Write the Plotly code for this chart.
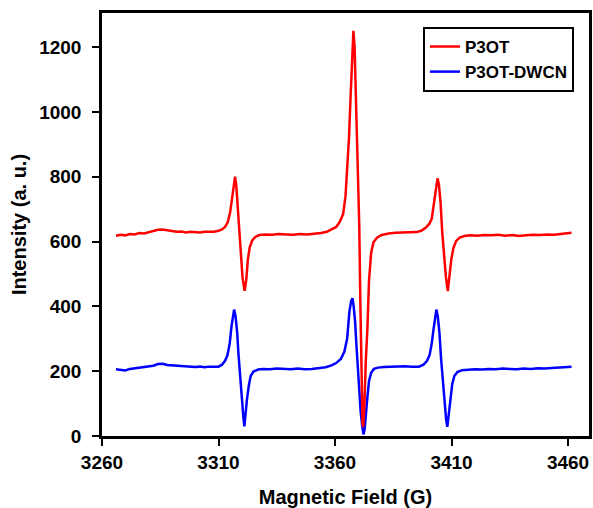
import plotly.graph_objects as go

# P3OT (red) spectrum: magnetic field (G) and intensity (a.u.)
p3ot_field = [3266.0, 3268.0, 3270.0, 3272.0, 3274.0, 3276.0, 3278.0, 3280.0, 3282.0, 3284.0,
              3286.0, 3288.0, 3290.0, 3292.0, 3294.0, 3296.0, 3298.0, 3300.0, 3302.0, 3304.0,
              3306.0, 3308.0, 3310.0, 3311.5, 3312.8, 3314.0, 3315.0, 3316.0, 3316.7, 3317.1,
              3317.6, 3318.2, 3318.8, 3319.5, 3320.3, 3321.2, 3321.9, 3322.6, 3323.4, 3324.4,
              3325.8, 3327.5, 3330.0, 3333.0, 3336.0, 3339.0, 3342.0, 3345.0, 3348.0, 3351.0,
              3354.0, 3356.5, 3358.5, 3360.5, 3362.0, 3363.5, 3364.5, 3365.3, 3366.0, 3366.7,
              3367.3, 3367.9, 3368.4, 3368.9, 3369.4, 3369.9, 3370.4, 3370.9, 3371.4, 3371.8,
              3372.1, 3372.6, 3373.2, 3373.9, 3374.6, 3375.5, 3376.5, 3378.0, 3380.0, 3383.0,
              3386.0, 3389.0, 3392.0, 3395.0, 3397.0, 3399.0, 3400.5, 3401.5, 3402.5, 3403.4,
              3404.0, 3404.6, 3405.3, 3406.0, 3406.8, 3407.6, 3408.4, 3409.1, 3409.9, 3410.8,
              3412.0, 3413.5, 3415.5, 3418.0, 3421.0, 3424.0, 3427.0, 3430.0, 3433.0, 3436.0,
              3439.0, 3442.0, 3445.0, 3448.0, 3451.0, 3454.0, 3457.0, 3459.0, 3461.5]
p3ot_int = [618, 621, 619, 623, 622, 626, 625, 629, 632, 636,
            637, 634, 632, 630, 631, 628, 630, 629, 628, 630,
            629, 630, 633, 637, 645, 660, 690, 745, 790, 800,
            775, 710, 640, 560, 490, 448, 480, 545, 582, 603,
            614, 620, 622, 621, 623, 622, 621, 623, 622, 624,
            626, 630, 637, 645, 660, 685, 740, 820, 920, 1050,
            1160, 1250, 1200, 1080, 940, 820, 650, 400, 150, 40,
            28, 90, 230, 330, 480, 565, 598, 612, 620, 625,
            627, 628, 627, 629, 633, 643, 655, 670, 720, 775,
            795, 775, 720, 630, 550, 490, 447, 495, 545, 580,
            602, 612, 617, 619, 618, 620, 619, 621, 618, 620,
            617, 619, 621, 620, 622, 621, 624, 625, 627]

# P3OT-DWCN (blue) spectrum
dwcn_field = [3266.0, 3268.0, 3270.0, 3272.0, 3274.0, 3276.0, 3278.0, 3280.0, 3282.0, 3284.0,
              3286.0, 3288.0, 3290.0, 3292.0, 3294.0, 3296.0, 3298.0, 3300.0, 3302.0, 3304.0,
              3306.0, 3308.0, 3310.0, 3311.5, 3312.8, 3313.8, 3314.8, 3315.6, 3316.3, 3316.7,
              3317.3, 3318.0, 3318.6, 3319.2, 3320.0, 3320.7, 3321.1, 3321.6, 3322.2, 3323.0,
              3323.8, 3325.0, 3327.0, 3329.0, 3332.0, 3335.0, 3338.0, 3341.0, 3344.0, 3347.0,
              3350.0, 3353.0, 3356.0, 3358.5, 3360.5, 3362.5, 3364.0, 3365.2, 3366.2, 3366.9,
              3367.5, 3368.0, 3368.6, 3369.2, 3369.8, 3370.4, 3371.0, 3371.6, 3372.2, 3372.7,
              3373.3, 3373.9, 3374.6, 3375.5, 3376.7, 3378.5, 3381.0, 3384.0, 3387.0, 3390.0,
              3393.0, 3396.0, 3398.0, 3399.5, 3400.6, 3401.5, 3402.3, 3403.0, 3403.5, 3404.1,
              3404.8, 3405.5, 3406.2, 3407.0, 3407.7, 3408.2, 3408.8, 3409.5, 3410.3, 3411.2,
              3412.5, 3414.5, 3417.0, 3420.0, 3423.0, 3426.0, 3429.0, 3432.0, 3435.0, 3438.0,
              3441.0, 3444.0, 3447.0, 3450.0, 3453.0, 3456.0, 3459.0, 3461.5]
dwcn_int = [206, 204, 202, 207, 209, 210, 212, 213, 217, 222,
            223, 219, 218, 216, 217, 214, 215, 213, 214, 212,
            214, 213, 214, 220, 232, 248, 285, 340, 385, 390,
            370, 320, 250, 185, 115, 55, 30, 70, 112, 155,
            185, 199, 205, 207, 206, 208, 207, 206, 208, 206,
            207, 209, 212, 218, 225, 238, 260, 300, 385, 415,
            425, 400, 355, 280, 200, 130, 75, 35, 5, 20,
            60, 120, 170, 195, 207, 211, 213, 214, 213, 215,
            214, 214, 220, 232, 250, 285, 330, 375, 390, 370,
            320, 240, 170, 95, 50, 28, 70, 115, 160, 185,
            197, 203, 205, 206, 205, 207, 206, 208, 207, 206,
            208, 207, 209, 208, 210, 211, 213, 214]

x_ticks = [3260, 3310, 3360, 3410, 3460]
y_ticks = [0, 200, 400, 600, 800, 1000, 1200]

FONT = "Liberation Sans, Arial, sans-serif"

fig = go.Figure()
fig.add_trace(go.Scatter(x=dwcn_field, y=dwcn_int, mode="lines", name="P3OT-DWCN",
                         line=dict(color="#0000ff", width=2.5), legendrank=2))
fig.add_trace(go.Scatter(x=p3ot_field, y=p3ot_int, mode="lines", name="P3OT",
                         line=dict(color="#ff0000", width=2.5), legendrank=1))

fig.update_layout(
    width=593, height=508,
    margin=dict(l=102, r=4, t=13, b=72),
    paper_bgcolor="white", plot_bgcolor="white",
    font=dict(family=FONT, color="black", size=19, weight="bold"),
    showlegend=True,
    legend=dict(x=0.659, y=0.967, xanchor="left", yanchor="top",
                bordercolor="black", borderwidth=2, bgcolor="white",
                font=dict(family=FONT, size=17, color="black", weight="bold"),
                tracegroupgap=0, itemwidth=30),
)
fig.update_xaxes(
    range=[3260, 3469], tickvals=x_ticks, ticktext=[str(v) for v in x_ticks],
    showgrid=False, zeroline=False, showline=True, linecolor="black", linewidth=2.5,
    mirror=True, ticks="outside", ticklen=7, tickwidth=2, tickcolor="black",
    tickfont=dict(family=FONT, size=19, weight="bold"), automargin=False,
    title=dict(text="Magnetic Field (G)", font=dict(family=FONT, size=20, weight="bold"), standoff=21),
)
fig.update_yaxes(
    range=[0, 1305], tickvals=y_ticks, ticktext=[str(v) for v in y_ticks],
    showgrid=False, zeroline=False, showline=True, linecolor="black", linewidth=2.5,
    mirror=True, ticks="outside", ticklen=7, tickwidth=2, tickcolor="black",
    tickfont=dict(family=FONT, size=19, weight="bold"), automargin=False,
    ticklabelstandoff=7,
    title=dict(text="Intensity (a. u.)", font=dict(family=FONT, size=20, weight="bold"), standoff=8),
)

fig.write_html("out.html", config={"displayModeBar": False},
               post_script="document.body.style.margin='0px';document.body.style.overflow='hidden';")
